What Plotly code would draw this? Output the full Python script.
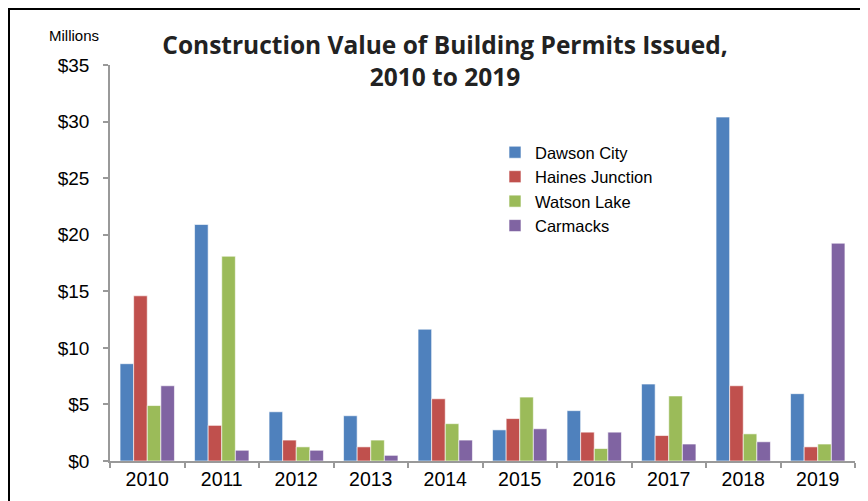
import plotly.graph_objects as go

years = ["2010", "2011", "2012", "2013", "2014", "2015", "2016", "2017", "2018", "2019"]
dawson_city = [8.6, 20.9, 4.35, 4.0, 11.65, 2.75, 4.45, 6.8, 30.4, 5.95]
haines_junction = [14.6, 3.15, 1.85, 1.25, 5.5, 3.75, 2.55, 2.25, 6.65, 1.25]
watson_lake = [4.9, 18.1, 1.25, 1.85, 3.3, 5.65, 1.1, 5.75, 2.4, 1.5]
carmacks = [6.65, 0.95, 0.95, 0.5, 1.85, 2.85, 2.55, 1.5, 1.7, 19.25]

series = [
    ("Dawson City", dawson_city, "#4F81BD"),
    ("Haines Junction", haines_junction, "#C0504D"),
    ("Watson Lake", watson_lake, "#9BBB59"),
    ("Carmacks", carmacks, "#8064A2"),
]

fig = go.Figure()
for name, vals, col in series:
    fig.add_trace(go.Bar(
        x=years, y=vals, name=name,
        marker=dict(color=col, line=dict(color="rgba(255,255,255,0.6)", width=1)),
    ))

# page body has an 8px margin, so the figure is drawn at (8, 8)
OFF = 8
W, H = 860, 493
L, R, T, B = 102, 13, 57, 40
pw, ph = W - L - R, H - T - B

def px_x(p):
    return (p - OFF - L) / pw

def px_y(p):
    return (H - B - (p - OFF)) / ph

fig.update_layout(
    width=W, height=H,
    margin=dict(l=L, r=R, t=T, b=B),
    paper_bgcolor="white", plot_bgcolor="white",
    barmode="group", bargap=0.27, bargroupgap=0,
    font=dict(family="Liberation Sans, Arial, sans-serif", size=16, color="#000000"),
    title=dict(
        text="<b>Construction Value of Building Permits Issued,<br>2010 to 2019</b>",
        x=px_x(445), xanchor="center", xref="paper",
        y=1 - (54 - OFF) / H, yanchor="middle",
        font=dict(family="Open Sans, sans-serif", size=24.5, color="#222222"),
    ),
    showlegend=True,
    legend=dict(
        x=px_x(495), y=px_y(135), xanchor="left", yanchor="top",
        font=dict(size=16.5, color="#000000"),
        bgcolor="rgba(0,0,0,0)", tracegroupgap=0,
    ),
    xaxis=dict(
        type="category", showline=True, linecolor="#999999", linewidth=1.5,
        ticks="outside", tickson="boundaries", ticklen=5, tickcolor="#999999",
        tickwidth=1.5, showgrid=False, tickfont=dict(size=19.5),
    ),
    yaxis=dict(
        range=[0, 35], dtick=5, tickprefix="$", showline=True, linecolor="#999999",
        linewidth=1.5, ticks="outside", ticklen=5, tickcolor="#999999", tickwidth=1.5,
        showgrid=False, zeroline=False, tickfont=dict(size=19),
        ticklabelstandoff=10,
    ),
    annotations=[dict(
        text="Millions", xref="paper", yref="paper", x=px_x(74), y=px_y(35),
        xanchor="center", yanchor="middle", showarrow=False,
        font=dict(size=15, color="#000000"),
    )],
    shapes=[
        dict(type="line", xref="paper", yref="paper", x0=px_x(8), x1=px_x(880),
             y0=px_y(9), y1=px_y(9), line=dict(color="#000000", width=2)),
        dict(type="line", xref="paper", yref="paper", x0=px_x(9), x1=px_x(9),
             y0=px_y(9), y1=px_y(520), line=dict(color="#000000", width=2)),
    ],
)

fig.write_html("out.html")
